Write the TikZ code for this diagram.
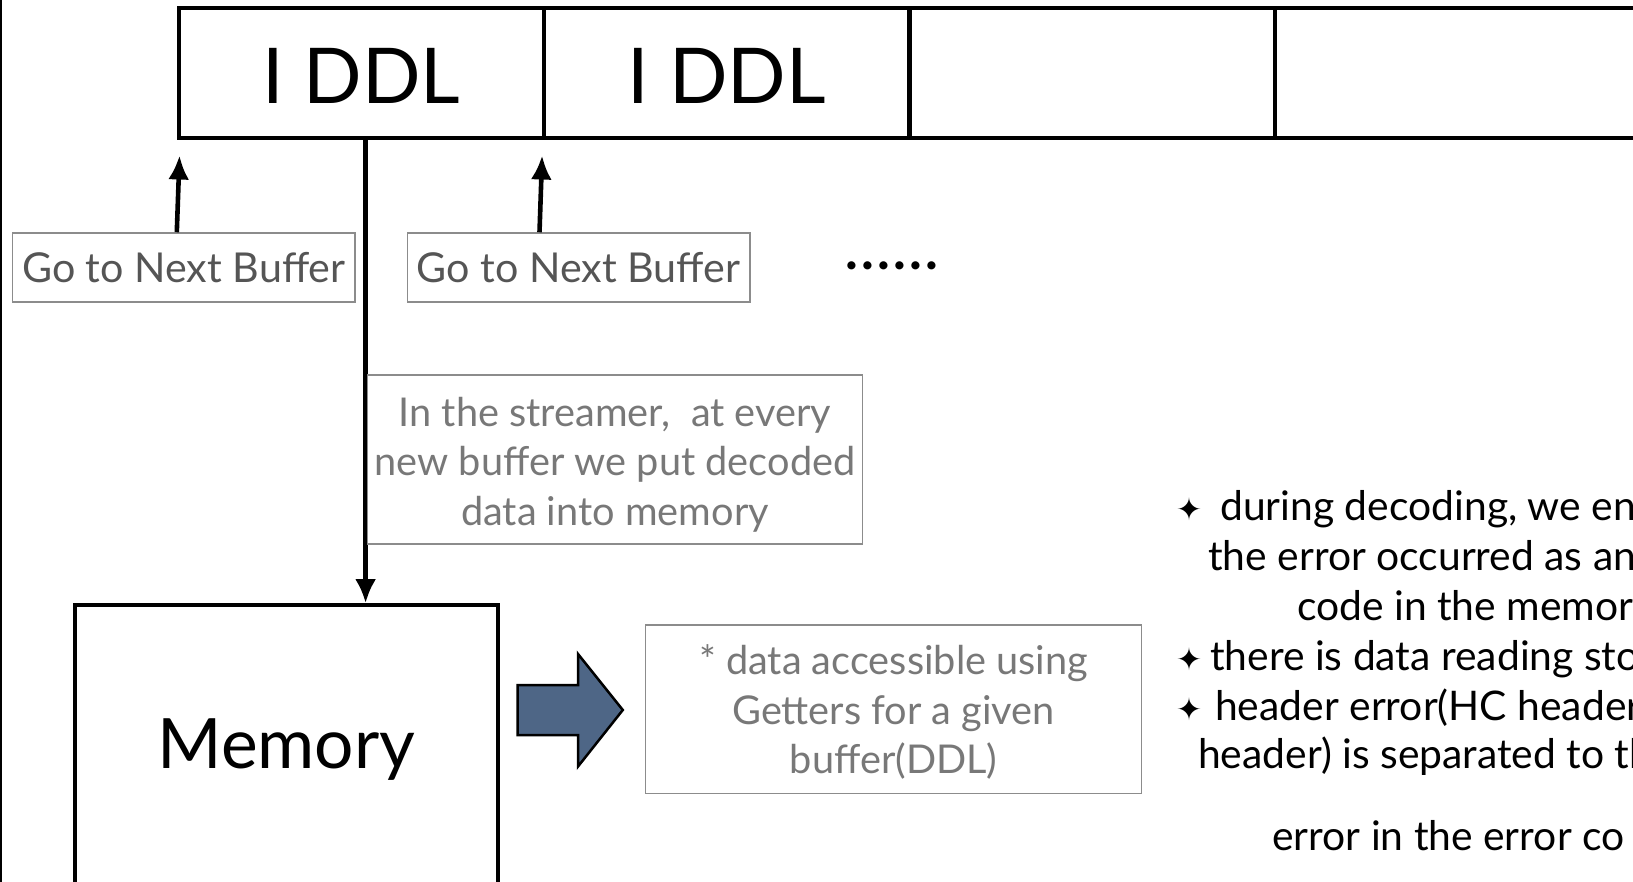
\documentclass[tikz,border=0pt]{standalone}
\usepackage{fontspec}
\setmainfont{Lato}
\newfontfamily\starfont{DejaVu Sans}
\usetikzlibrary{arrows.meta}
\definecolor{boxgray}{RGB}{140,140,140}
\definecolor{txtdark}{RGB}{85,85,85}
\definecolor{txtlight}{RGB}{120,120,120}
\definecolor{slate}{RGB}{78,102,134}
\begin{document}
\begin{tikzpicture}[x=1pt,y=-1pt,
  cell/.style={draw, line width=4pt, minimum width=365.6pt, minimum height=130.2pt,
    inner sep=0pt, text height=60pt, text depth=0pt, font=\fontsize{77}{84}\selectfont},
  gobox/.style={draw=boxgray, line width=1.5pt, text=txtdark, inner sep=0pt,
    minimum width=342.5pt, minimum height=69pt, font=\fontsize{41.2}{50}\selectfont},
  notebox/.style={draw=boxgray, line width=1.5pt, inner sep=0pt,
    minimum width=495pt, minimum height=168.7pt},
  notetext/.style={text=txtlight, inner sep=0pt, align=center,
    font=\fontsize{39.7}{49.5}\selectfont},
  membox/.style={draw, line width=3.6pt, inner sep=0pt, minimum width=422.8pt,
    minimum height=290pt, font=\fontsize{69.5}{80}\selectfont},
  arr/.style={line width=4.6pt, -{Latex[length=24pt,width=21pt]}},
  rt/.style={anchor=base west, inner sep=0pt, font=\fontsize{40.8}{50}\selectfont},
  st/.style={anchor=base west, inner sep=0pt, font=\starfont\fontsize{31}{36}\selectfont},
]
\useasboundingbox (0,0) rectangle (1633,882);
\clip (0,0) rectangle (1633,882);
\draw[line width=2pt] (1,0) coordinate (fl1) -- (1,882) coordinate (fl2);

% top row of buffers
\node[cell] (c1) at (361.3,73.4) {I DDL};
\node[cell] (c2) at (726.9,73.4) {I DDL};
\node[cell] (c3) at (1092.0,73.4) {};
\node[cell] (c4) at (1457.4,73.4) {};

% go to next buffer boxes
\node[gobox] (g1) at (183.8,267.5) {Go to Next Buffer};
\node[gobox] (g2) at (578.5,267.5) {Go to Next Buffer};
\node[anchor=base west, inner sep=0pt, font=\bfseries\fontsize{54}{60}\selectfont\addfontfeature{LetterSpace=6}] (dots) at (845,270) {......};

\draw[arr] ([xshift=-7pt]g1.north) -- ([xshift=3pt,yshift=-15pt]c1.south west);
\draw[arr] ([xshift=-39pt]g2.north) -- ([xshift=0pt,yshift=-15pt]c2.south west);

% memory
\node[membox] (m) at (286.4,750) {Memory};
\draw[arr] ([xshift=4.3pt]c1.south) -- ([xshift=4.3pt]c1.south |- m.north);

% streamer note
\node[notebox] (s) at (615,459.4) {};
\node[notetext] (stx) at ([yshift=-5pt]s.center) {In the streamer,\ \ at every\\new buffer we put decoded\\data into memory};

% block arrow
\draw[line width=2.5pt, fill=slate] (517.6,685) -- (578,685) -- (578,654) -- (622.8,710)
  -- (578,766.5) -- (578,735) -- (517.6,735) -- cycle;

% getters note
\node[notebox, minimum width=495.8pt] (gt) at (893.6,709.3) {};
\node[notetext] (gtx) at ([yshift=-3pt]gt.center) {* data accessible using\\Getters for a given\\buffer(DDL)};

% right text
\node[st] (s1) at (1176,520) {✦};
\node[rt] (r1) at (1220,520) {during decoding, we enc};
\node[rt] (r2) at (1208,570) {the error occurred as an};
\node[rt] (r3) at (1297,620) {code in the memory};
\node[st] (s4) at (1176,670) {✦};
\node[rt] (r4) at (1210,670) {there is data reading stop};
\node[st] (s5) at (1176,720) {✦};
\node[rt] (r5) at (1215,720) {header error(HC header};
\node[rt] (r6) at (1198,768) {header) is separated to th};
\node[rt] (r7) at (1272,850) {error in the error co};
\end{tikzpicture}
\end{document}
